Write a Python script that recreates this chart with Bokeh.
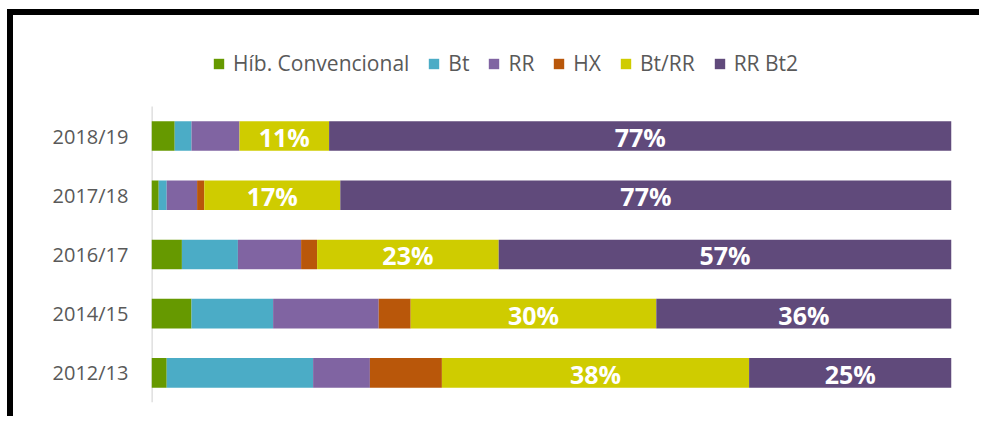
from bokeh.plotting import figure
from bokeh.models import ColumnDataSource, Legend, LegendItem, LabelSet, Range1d, FixedTicker
from bokeh.embed import file_html
from bokeh.resources import INLINE
from bokeh.core.properties import value

seasons = ["2012/13", "2014/15", "2016/17", "2017/18", "2018/19"]
series = ["Híb. Convencional", "Bt", "RR", "HX", "Bt/RR", "RR Bt2"]
hib = [1.9, 5.0, 3.8, 0.9, 2.9]
bt = [18.3, 10.2, 7.0, 1.0, 2.1]
rr = [7.1, 13.2, 7.9, 3.8, 6.0]
hx = [9.0, 4.0, 2.0, 0.9, 0.0]
btrr = [38.4, 30.7, 22.7, 17.0, 11.2]
rrbt2 = [25.3, 36.9, 56.6, 76.4, 77.8]
btrr_labels = ["38%", "30%", "23%", "17%", "11%"]
rrbt2_labels = ["25%", "36%", "57%", "77%", "77%"]
colors = ["#669900", "#4BACC6", "#8064A2", "#B9570A", "#CFCC00", "#604A7B"]

keys = ["hib", "bt", "rr", "hx", "btrr", "rrbt2"]
pos = list(range(len(seasons)))
src = ColumnDataSource(dict(pos=pos, hib=hib, bt=bt, rr=rr, hx=hx, btrr=btrr, rrbt2=rrbt2))

FONT = "Open Sans"
N = len(seasons)

p = figure(width=972, height=407, x_range=Range1d(0, 100), y_range=Range1d(-0.5, N - 0.5 + 1.13),
           output_backend="svg", toolbar_location=None,
           min_border_left=138, min_border_right=34, min_border_top=24, min_border_bottom=20)
p.styles = {"border-top": "6px solid black", "border-left": "6px solid black",
            "margin-top": "9px", "margin-left": "7px"}

# y axis line (only over the categories)
p.segment(x0=[0], y0=[-0.5], x1=[0], y1=[N - 0.5], line_color="#D9D9D9", line_width=2.5)

renderers = p.hbar_stack(keys, y="pos", height=0.5, color=colors, line_color=None, source=src)

# label positions at segment centres
base_btrr = [a + b + c + d for a, b, c, d in zip(hib, bt, rr, hx)]
lab_src = ColumnDataSource(dict(
    y=pos + pos,
    x=[b + v / 2 for b, v in zip(base_btrr, btrr)] + [b + v + w / 2 for b, v, w in zip(base_btrr, btrr, rrbt2)],
    t=btrr_labels + rrbt2_labels,
))
labels = LabelSet(x="x", y="y", text="t", source=lab_src, text_align="center", text_baseline="middle",
                  text_color="white", text_font=value(FONT), text_font_style="bold", text_font_size="25px",
                  y_offset=-1)
p.add_layout(labels)

legend = Legend(items=[LegendItem(label=s, renderers=[r]) for s, r in zip(series, renderers)],
                orientation="horizontal", location=(61, 325),
                label_text_font=FONT, label_text_font_size="21px", label_text_color="#595959",
                glyph_width=13, glyph_height=13, label_standoff=8, spacing=18,
                border_line_color=None, background_fill_alpha=0, padding=0, margin=0,
                label_height=20)
p.add_layout(legend, "center")

p.xaxis.visible = False
p.xgrid.visible = False
p.ygrid.visible = False
p.outline_line_color = None
p.yaxis.ticker = FixedTicker(ticks=pos)
p.yaxis.major_label_overrides = {i: s for i, s in zip(pos, seasons)}
p.yaxis.axis_line_color = None
p.yaxis.major_tick_line_color = None
p.yaxis.minor_tick_line_color = None
p.yaxis.major_tick_out = 0
p.yaxis.minor_tick_out = 0
p.yaxis.major_label_text_font = FONT
p.yaxis.major_label_text_font_size = "20px"
p.yaxis.major_label_text_color = "#595959"
p.yaxis.major_label_standoff = 23

open("out.html", "w").write(file_html(p, INLINE))
